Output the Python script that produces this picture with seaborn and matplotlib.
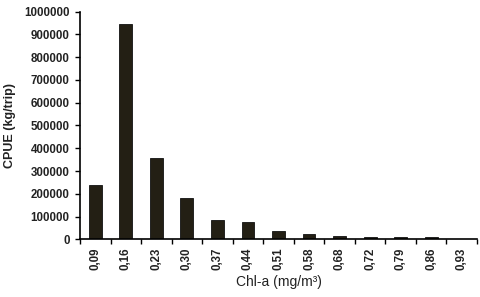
import matplotlib
matplotlib.use("Agg")
import matplotlib.pyplot as plt
import seaborn as sns
import pandas as pd
import numpy as np
from matplotlib.ticker import FixedLocator

categories = ["0,09", "0,16", "0,23", "0,30", "0,37", "0,44", "0,51",
              "0,58", "0,68", "0,72", "0,79", "0,86", "0,93"]
cpue = [237000, 945000, 357000, 183000, 83000, 75000, 36000,
        22000, 13000, 10000, 10000, 11000, 2000]
yticks = [0, 100000, 200000, 300000, 400000, 500000, 600000, 700000,
          800000, 900000, 1000000]

sns.set_style("white")
plt.rcParams['font.family'] = ['Liberation Sans', 'DejaVu Sans']

df = pd.DataFrame({"chl": categories, "cpue": cpue})

fig = plt.figure(figsize=(4.8, 2.97), dpi=100)
ax = fig.add_axes([0.1667, 0.194, 0.827, 0.767])
sns.barplot(data=df, x="chl", y="cpue", color="#231f14", edgecolor="#111111",
            linewidth=0.6, width=0.42, saturation=1, ax=ax)

ax.set_ylim(0, 1000000)
ax.set_xlim(-0.5, len(categories) - 0.5)
ax.set_yticks(yticks)
ax.set_yticklabels([str(v) for v in yticks], fontsize=8.3, fontweight="bold", color="#222222")
ax.set_xticks(range(len(categories)))
ax.set_xticklabels(categories, rotation=90, fontsize=8.3, fontweight="bold", color="#222222")
ax.tick_params(axis="x", which="major", length=0, pad=6)
ax.xaxis.set_minor_locator(FixedLocator(np.arange(-0.5, len(categories), 1.0)))
ax.tick_params(axis="x", which="minor", length=3.5, width=1, color="black", direction="out", bottom=True)
ax.tick_params(axis="y", length=3.5, width=1, color="black", direction="out", left=True, pad=4)

for s in ["top", "right"]:
    ax.spines[s].set_visible(False)
for s in ["left", "bottom"]:
    ax.spines[s].set_color("black")
    ax.spines[s].set_linewidth(1.2)

ax.set_ylabel("CPUE (kg/trip)", fontsize=9, fontweight="bold", labelpad=6, color="#222222")
ax.set_xlabel("Chl-a (mg/m³)", fontsize=10, labelpad=3, color="#222222")

fig.savefig("out.png", dpi=100)
